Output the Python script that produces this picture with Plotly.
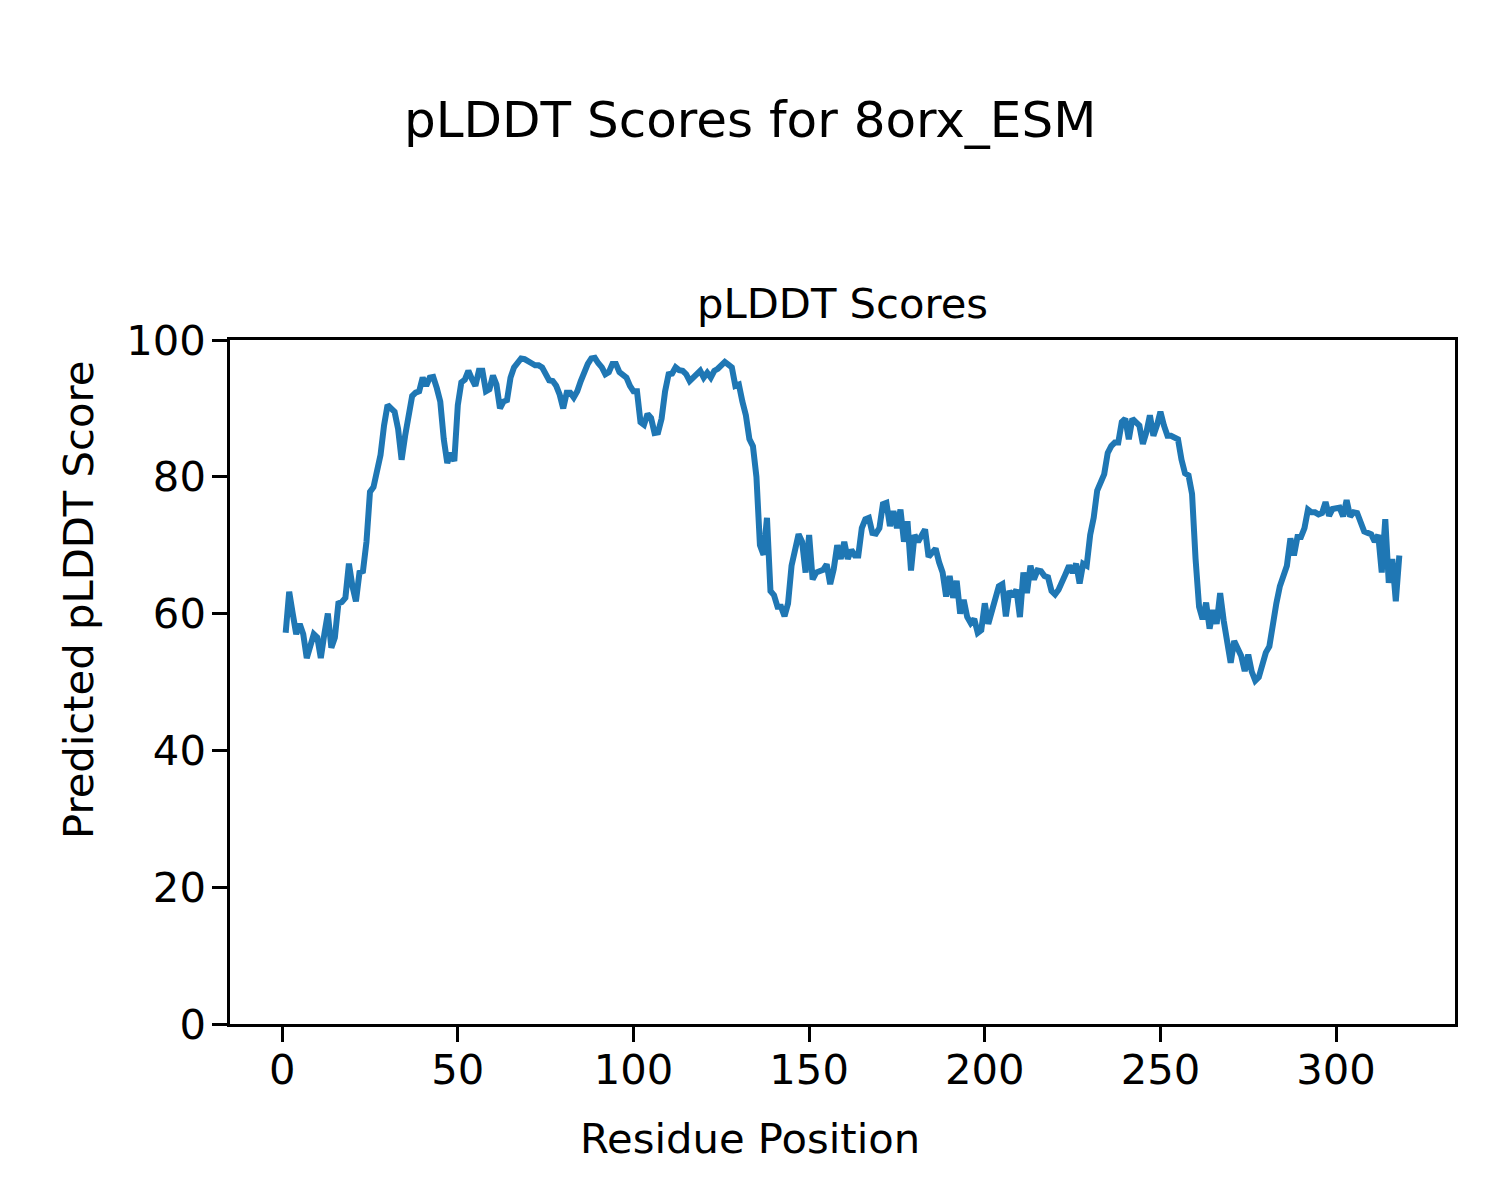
import plotly.graph_objects as go

residues = list(range(1, 319))
plddt = [
    57.2, 63.2, 60.0, 57.0, 58.5, 57.0, 53.5, 55.0, 57.0, 56.5,
    53.5, 57.0, 60.0, 55.0, 56.5, 61.5, 61.7, 62.3, 67.3, 64.0,
    61.8, 66.0, 66.2, 70.5, 77.8, 78.5, 80.5, 83.2, 87.5, 90.5,
    90.0, 89.5, 87.0, 82.5, 86.0, 89.0, 91.8, 92.3, 92.5, 94.5,
    93.3, 94.5, 94.6, 93.0, 91.0, 85.5, 82.0, 83.5, 82.3, 90.5,
    93.8, 94.2, 95.5, 94.3, 93.3, 95.5, 95.5, 92.5, 92.8, 94.8,
    93.5, 90.0, 91.0, 91.2, 94.5, 96.0, 96.8, 97.3, 97.2, 96.8,
    96.6, 96.3, 96.3, 96.0, 94.8, 94.1, 94.0, 93.3, 92.0, 90.0,
    92.3, 92.3, 91.6, 92.5, 94.0, 95.5, 96.5, 97.3, 97.4, 96.6,
    96.0, 95.0, 95.3, 96.5, 96.5, 95.3, 95.0, 94.5, 93.3, 92.5,
    92.5, 88.0, 87.6, 89.2, 88.6, 86.4, 86.5, 88.5, 92.5, 95.0,
    95.1, 96.0, 95.6, 95.5, 95.0, 94.0, 94.5, 95.0, 95.5, 94.5,
    95.2, 94.5, 95.5, 95.8, 96.3, 96.8, 96.4, 96.0, 93.3, 93.5,
    91.0, 89.0, 85.5, 84.5, 80.0, 70.0, 68.6, 74.0, 63.3, 62.7,
    61.0, 61.0, 59.6, 61.5, 67.0, 69.5, 71.6, 70.5, 66.0, 71.5,
    65.0, 66.0, 66.3, 66.4, 67.2, 64.3, 66.5, 70.0, 68.0, 70.5,
    68.0, 69.3, 68.5, 68.5, 72.5, 73.8, 74.0, 71.8, 71.7, 72.5,
    76.0, 76.2, 72.8, 75.0, 72.5, 75.2, 70.5, 73.5, 66.3, 71.5,
    70.5, 71.4, 72.3, 68.3, 68.8, 69.5, 67.5, 66.0, 62.5, 65.5,
    62.3, 64.8, 60.0, 62.0, 59.5, 58.6, 59.2, 57.2, 57.6, 61.5,
    58.5, 60.5, 62.4, 64.0, 64.3, 59.6, 63.3, 62.5, 63.5, 59.5,
    66.0, 63.0, 67.0, 65.0, 66.3, 66.2, 65.5, 65.3, 63.3, 62.8,
    63.5, 64.5, 65.8, 67.0, 66.0, 67.3, 64.4, 67.3, 67.0, 71.5,
    74.0, 78.0, 79.5, 80.4, 83.5, 84.5, 85.0, 85.0, 88.0, 88.5,
    85.5, 88.5, 88.0, 87.5, 84.8, 86.5, 89.0, 86.0, 87.5, 89.5,
    87.5, 86.0, 86.0, 85.8, 85.5, 82.5, 80.5, 80.2, 77.5, 68.0,
    61.0, 59.2, 61.6, 57.8, 60.5, 58.5, 63.0, 59.0, 56.0, 52.8,
    56.0, 55.0, 53.8, 51.6, 54.0, 51.5, 50.2, 50.7, 53.0, 54.3,
    55.2, 59.0, 61.5, 64.0, 65.5, 67.0, 71.0, 68.5, 71.2, 71.2,
    72.5, 75.2, 74.8, 74.8, 74.5, 74.7, 76.3, 74.3, 75.3, 75.3,
    75.5, 74.2, 76.6, 74.2, 74.8, 74.7, 73.0, 72.0, 71.8, 71.6,
    70.5, 71.5, 66.0, 73.8, 64.5, 68.0, 61.8, 68.5,
]

x_ticks = [0, 50, 100, 150, 200, 250, 300]
y_ticks = [0, 20, 40, 60, 80, 100]

suptitle = "pLDDT Scores for 8orx_ESM"
ax_title = "pLDDT Scores"
x_label = "Residue Position"
y_label = "Predicted pLDDT Score"

FONT = "DejaVu Sans"
L, R, T, B = 230, 45, 340, 176
W, H = 1500, 1200
pw, ph = W - L - R, H - T - B

def px_to_paper_x(px):
    return (px - L) / pw

def px_to_paper_y(py):
    return (H - B - py) / ph

fig = go.Figure()
fig.add_trace(go.Scatter(
    x=residues, y=plddt, mode="lines",
    line=dict(color="#1f77b4", width=6),
    showlegend=False,
))

axis_common = dict(
    showgrid=False, zeroline=False,
    showline=True, linecolor="black", linewidth=3.3, mirror=True,
    ticks="outside", ticklen=14.6, tickwidth=3.3, tickcolor="black",
    tickfont=dict(family=FONT, size=41.7, color="black"),
)

fig.update_xaxes(range=[-14.85, 333.85], tickvals=x_ticks,
                 ticktext=[str(v) for v in x_ticks],
                 ticklabelstandoff=-8, **axis_common)
fig.update_yaxes(range=[0, 100], tickvals=y_ticks,
                 ticktext=[str(v) for v in y_ticks],
                 ticklabelstandoff=-2, **axis_common)

fig.update_layout(
    width=W, height=H,
    margin=dict(l=L, r=R, t=T, b=B, autoexpand=False),
    paper_bgcolor="white", plot_bgcolor="white",
    font=dict(family=FONT, color="black"),
    annotations=[
        dict(text=suptitle, xref="paper", yref="paper",
             x=px_to_paper_x(750), y=px_to_paper_y(120),
             xanchor="center", yanchor="middle", showarrow=False,
             font=dict(family=FONT, size=50, color="black")),
        dict(text=ax_title, xref="paper", yref="paper",
             x=0.5, y=px_to_paper_y(303),
             xanchor="center", yanchor="middle", showarrow=False,
             font=dict(family=FONT, size=41.7, color="black")),
        dict(text=x_label, xref="paper", yref="paper",
             x=px_to_paper_x(750), y=px_to_paper_y(1138),
             xanchor="center", yanchor="middle", showarrow=False,
             font=dict(family=FONT, size=41.7, color="black")),
        dict(text=y_label, xref="paper", yref="paper",
             x=px_to_paper_x(78), y=px_to_paper_y(600),
             xanchor="center", yanchor="middle", showarrow=False,
             textangle=-90,
             font=dict(family=FONT, size=41.7, color="black")),
    ],
)

fig.write_html(
    "out.html",
    config={"displayModeBar": False},
    post_script="document.body.style.margin='0';document.body.style.padding='0';",
)
